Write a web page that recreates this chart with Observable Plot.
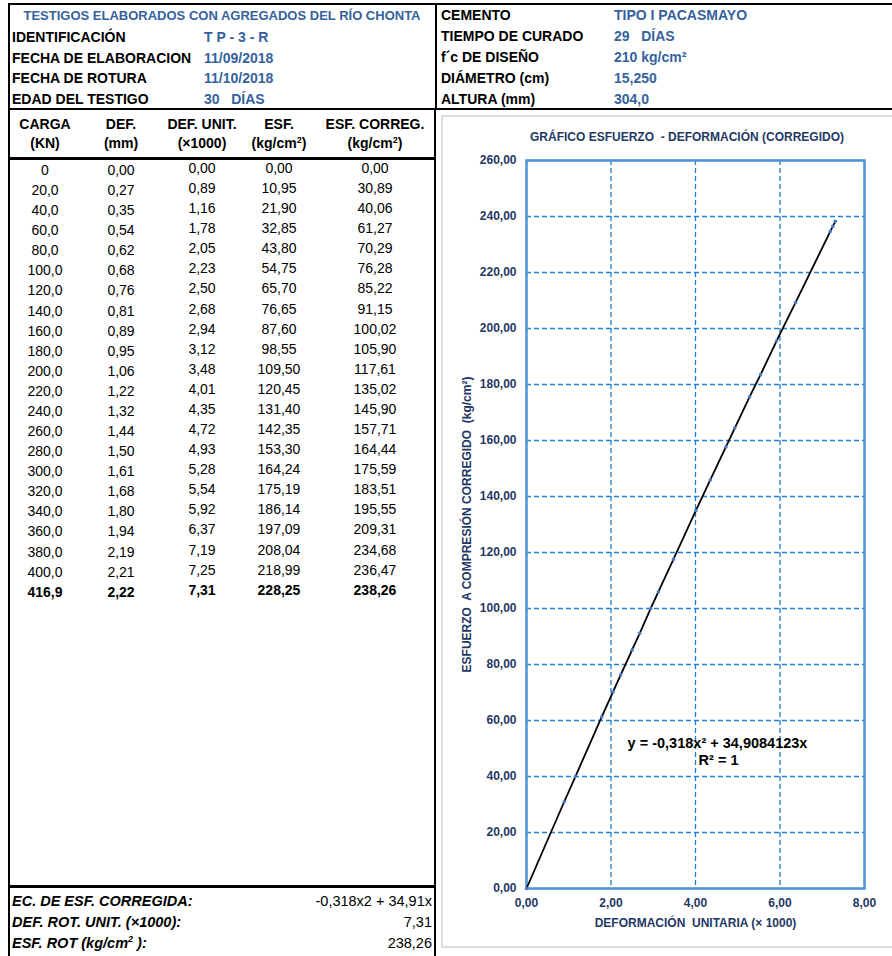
<!DOCTYPE html>
<html>
<head>
<meta charset="utf-8">
<script src="https://cdn.jsdelivr.net/npm/d3@7"></script>
<script src="https://cdn.jsdelivr.net/npm/@observablehq/plot@0.6"></script>
<style>
  html, body { margin: 0; padding: 0; background: #fff; }
  #page { position: relative; width: 892px; height: 956px; overflow: hidden; font-family: "Liberation Sans", Arial, sans-serif; color: #000; }
  .t { position: absolute; white-space: pre; line-height: 1; }
  #chart { position: absolute; left: 437px; top: 110px; }
  #chart g[aria-label="y-axis label"] text, #chart g[aria-label="x-axis label"] text { font-size: 12px; }
</style>
</head>
<body>
<div id="page"></div>
<script>
// ---------- data ----------
const carga   = [0, 20, 40, 60, 80, 100, 120, 140, 160, 180, 200, 220, 240, 260, 280, 300, 320, 340, 360, 380, 400, 416.9];
const defMm   = [0.00, 0.27, 0.35, 0.54, 0.62, 0.68, 0.76, 0.81, 0.89, 0.95, 1.06, 1.22, 1.32, 1.44, 1.50, 1.61, 1.68, 1.80, 1.94, 2.19, 2.21, 2.22];
const defUnit = [0.00, 0.89, 1.16, 1.78, 2.05, 2.23, 2.50, 2.68, 2.94, 3.12, 3.48, 4.01, 4.35, 4.72, 4.93, 5.28, 5.54, 5.92, 6.37, 7.19, 7.25, 7.31];
const esf     = [0.00, 10.95, 21.90, 32.85, 43.80, 54.75, 65.70, 76.65, 87.60, 98.55, 109.50, 120.45, 131.40, 142.35, 153.30, 164.24, 175.19, 186.14, 197.09, 208.04, 218.99, 228.25];
const esfCorr = [0.00, 30.89, 40.06, 61.27, 70.29, 76.28, 85.22, 91.15, 100.02, 105.90, 117.61, 135.02, 145.90, 157.71, 164.44, 175.59, 183.51, 195.55, 209.31, 234.68, 236.47, 238.26];

const headerLeftLabels  = ["IDENTIFICACIÓN", "FECHA DE ELABORACION", "FECHA DE ROTURA", "EDAD DEL TESTIGO"];
const headerLeftValues  = ["T P - 3 - R", "11/09/2018", "11/10/2018", "30   DÍAS"];
const headerRightLabels = ["CEMENTO", "TIEMPO DE CURADO", "f´c DE DISEÑO", "DIÁMETRO (cm)", "ALTURA (mm)"];
const headerRightValues = ["TIPO I PACASMAYO", "29   DÍAS", "210 kg/cm²", "15,250", "304,0"];
const colHead1 = ["CARGA", "DEF.", "DEF. UNIT.", "ESF.", "ESF. CORREG."];
const colHead2 = ["(KN)", "(mm)", "(×1000)", "(kg/cm<sup style='font-size:9px'>2</sup>)", "(kg/cm<sup style='font-size:9px'>2</sup>)"];
const summaryLabels = ["EC. DE ESF. CORREGIDA:", "DEF. ROT. UNIT. (×1000):", "ESF. ROT (kg/cm<sup style='font-size:9px'>2</sup> ):"];
const summaryValues = ["-0,318x2 + 34,91x", "7,31", "238,26"];
const xTicks = [0, 2, 4, 6, 8];
const yTicks = [0, 20, 40, 60, 80, 100, 120, 140, 160, 180, 200, 220, 240, 260];
const eqText = "y = -0,318x² + 34,9084123x";
const r2Text = "R² = 1";

// ---------- helpers ----------
const page = document.getElementById("page");
const BLUE = "#35629e", NAVY = "#1f3864";
function txt(x, y, html, o = {}) {
  const d = document.createElement("div");
  d.className = "t";
  d.innerHTML = html;
  const ax = o.anchor === "middle" ? "-50%" : o.anchor === "end" ? "-100%" : "0";
  d.style.left = x + "px"; d.style.top = y + "px";
  d.style.transform = `translate(${ax},-50%)`;
  d.style.fontSize = (o.size || 13) + "px";
  d.style.fontWeight = o.bold ? "bold" : "normal";
  if (o.italic) d.style.fontStyle = "italic";
  d.style.color = o.color || "#000";
  page.appendChild(d);
}
function box(x, y, w, h, css) {
  const d = document.createElement("div");
  d.style.position = "absolute";
  d.style.left = x + "px"; d.style.top = y + "px";
  d.style.width = w + "px"; d.style.height = h + "px";
  d.style.boxSizing = "border-box";
  Object.assign(d.style, css);
  page.appendChild(d);
}
const c = v => v.toFixed(2).replace(".", ",");

// ---------- header ----------
box(8, 3, 429, 107, {border: "2px solid #000"});
box(435, 3, 470, 107, {border: "2px solid #000"});
txt(222, 15, "TESTIGOS ELABORADOS CON AGREGADOS DEL RÍO CHONTA", {anchor: "middle", bold: true, color: BLUE});
headerLeftLabels.forEach((s, i) => txt(12, 37 + i * 20.7, s, {bold: true, size: 14}));
headerLeftValues.forEach((s, i) => txt(204, 37 + i * 20.7, s, {bold: true, size: 14, color: BLUE}));
headerRightLabels.forEach((s, i) => txt(441, 15 + i * 21, s, {bold: true, size: 14}));
headerRightValues.forEach((s, i) => txt(614, 15 + i * 21, s, {bold: true, size: 14, color: BLUE}));

// ---------- table ----------
box(8, 108, 2, 848, {background: "#000"});
box(434, 108, 2, 848, {background: "#000"});
box(8, 157, 428, 3, {background: "#000"});
box(8, 885, 428, 3, {background: "#000"});
const colX = [45, 121, 202, 279, 375];
colHead1.forEach((s, i) => txt(colX[i], 124, s, {anchor: "middle", bold: true, size: 14}));
colHead2.forEach((s, i) => txt(colX[i], 143, s, {anchor: "middle", bold: true, size: 14}));
carga.forEach((v, i) => {
  const y = 170 + i * 20.08;
  const last = i === carga.length - 1;
  const o = {anchor: "middle", size: 14, bold: last};
  txt(colX[0], y, i === 0 ? "0" : v.toFixed(1).replace(".", ","), o);
  txt(colX[1], y, c(defMm[i]), o);
  txt(colX[2], y - 2, c(defUnit[i]), o);
  txt(colX[3], y - 2, c(esf[i]), o);
  txt(colX[4], y - 2, c(esfCorr[i]), o);
});
summaryLabels.forEach((s, i) => txt(12, 901 + i * 21, s, {bold: true, italic: true, size: 14.5}));
summaryValues.forEach((s, i) => txt(432, 901 + i * 21, s, {anchor: "end", size: 14.5}));

// ---------- chart frame ----------
box(441, 115, 470, 833, {border: "2px solid #dcdcdc"});
txt(687, 137, "GRÁFICO ESFUERZO  - DEFORMACIÓN (CORREGIDO)", {anchor: "middle", bold: true, size: 12, color: NAVY});

const pts = defUnit.map((x, i) => ({x, y: esfCorr[i]}));
const chart = Plot.plot({
  width: 455, height: 846,
  marginLeft: 89, marginRight: 28, marginTop: 50, marginBottom: 68,
  style: {fontFamily: "'Liberation Sans', Arial, sans-serif", fontSize: "12px", fontWeight: "bold", color: NAVY, background: "transparent", overflow: "visible"},
  x: {domain: [0, 8]},
  y: {domain: [0, 260]},
  marks: [
    Plot.gridY(yTicks, {stroke: "#1f7fd1", strokeOpacity: 1, strokeWidth: 1.3, strokeDasharray: "5,3"}),
    Plot.gridX(xTicks, {stroke: "#1f7fd1", strokeOpacity: 1, strokeWidth: 1.3, strokeDasharray: "5,3"}),
    Plot.frame({stroke: "#4f94d4", strokeWidth: 2.5}),
    Plot.axisY(yTicks, {tickSize: 0, tickPadding: 10, tickFormat: c, label: "ESFUERZO  A COMPRESIÓN CORREGIDO  (kg/cm²)", labelAnchor: "center", labelOffset: 64, labelArrow: "none"}),
    Plot.axisX(xTicks, {tickSize: 0, tickPadding: 10, tickFormat: c, label: "DEFORMACIÓN  UNITARIA (× 1000)", labelAnchor: "center", labelOffset: 38, labelArrow: "none"}),
    Plot.line(pts, {x: "x", y: "y", stroke: "#000", strokeWidth: 1.8}),
    Plot.dot(pts, {x: "x", y: "y", r: 1.8, fill: "#4b78c8", stroke: null}),
    Plot.text([eqText], {frameAnchor: "middle", dx: 22, dy: 219, text: d => d, fill: "#000", fontSize: 14.5, fontWeight: "bold"}),
    Plot.text([r2Text], {frameAnchor: "middle", dx: 23, dy: 236, text: d => d, fill: "#000", fontSize: 14.5, fontWeight: "bold"})
  ]
});
chart.id = "chart";
page.appendChild(chart);
</script>
</body>
</html>
